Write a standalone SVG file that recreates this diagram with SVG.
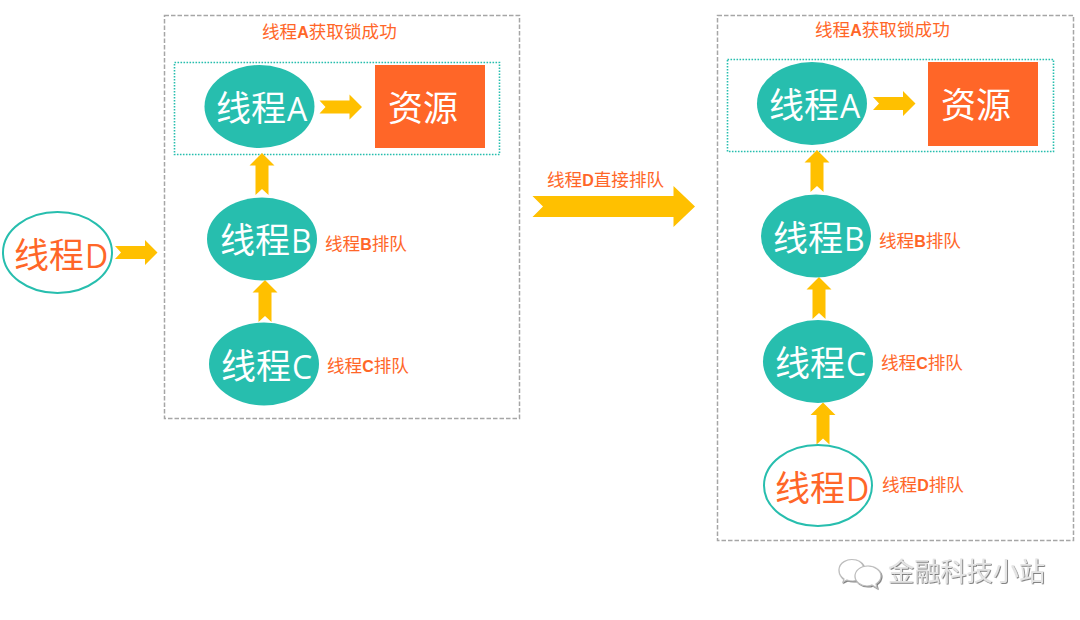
<svg xmlns="http://www.w3.org/2000/svg" width="1080" height="620" viewBox="0 0 1080 620">
<style>
text{font-family:"Noto Sans CJK SC","Noto Sans",sans-serif}
.big{font-size:35px;font-weight:400}
.big tspan{font-family:"Open Sans","Noto Sans",sans-serif;font-size:32px;font-weight:400}
.w{fill:#fff}
.o{fill:#FF6628}
.small{font-size:17.6px;fill:#FF6628;font-weight:400}
.small tspan{font-family:"Liberation Sans",sans-serif;font-weight:700;font-size:16px}
.node{fill:#27BEAE}
.open{fill:#fff;stroke:#27BEAE;stroke-width:2}
.res{fill:#FF6628}
.outer{fill:none;stroke:#A6A6A6;stroke-width:1.5;stroke-dasharray:4.5 2}
.inner{fill:none;stroke:#27BEAE;stroke-width:1.6;stroke-dasharray:1.6 1.4}
.arr{fill:#FFC000}
.mark{font-size:26.2px;fill:#e4e4e4;filter:url(#sh)}
.wc{fill:#fff;stroke:#bdbdbd;stroke-width:1.2;filter:url(#sh)}
</style>
<defs>
<filter id="sh" x="-10%" y="-10%" width="120%" height="120%"><feDropShadow dx="0.8" dy="0.8" stdDeviation="0.4" flood-color="#666"/></filter>
<path id="up" d="M0 0L12.500 12.500H6.500V42L0 36L-6.500 42V12.500H-12.500Z"/>
<path id="right" d="M0 -6.500H30V-12.500L42.500 0L30 12.500V6.500H0L6 0Z"/>
</defs>

<g id="panel-left">
<rect class="outer" x="164.500" y="15.500" width="355" height="403"/>
<rect class="inner" x="174.500" y="62.500" width="325" height="92"/>
<text class="small" x="262" y="38">线程<tspan>A</tspan>获取锁成功</text>
</g>
<g id="panel-right">
<rect class="outer" x="717.500" y="15.500" width="356" height="525"/>
<rect class="inner" x="727.500" y="59.500" width="326" height="92"/>
<text class="small" x="815" y="36">线程<tspan>A</tspan>获取锁成功</text>
</g>

<g id="connectors" class="arr">
<use href="#right" x="319.500" y="107"/>
<use href="#up" x="262" y="153"/>
<use href="#up" x="265" y="280"/>
<use href="#right" x="115" y="252.500"/>
<use href="#right" x="873" y="103.500"/>
<use href="#up" x="817" y="150"/>
<use href="#up" x="819" y="277"/>
<use href="#up" x="823" y="402.500"/>
<polygon points="532.500,196 673.500,196 673.500,186 695,206.500 673.500,227 673.500,217 532.500,217 543,206.500"/>
</g>

<g id="thread-d-left">
<ellipse class="open" cx="57.500" cy="252.500" rx="54.500" ry="40.500"/>
<text class="big o" x="14" y="268">线程<tspan dx="1">D</tspan></text>
</g>
<g id="thread-a-left">
<ellipse class="node" cx="259.500" cy="106.500" rx="55" ry="41.500"/>
<text class="big w" x="216" y="120.500">线程<tspan dx="1">A</tspan></text>
</g>
<g id="resource-left">
<rect class="res" x="375" y="65" width="110" height="83"/>
<text class="big w" x="388" y="120.500">资源</text>
</g>
<g id="thread-b-left">
<ellipse class="node" cx="262" cy="239" rx="55" ry="41.500"/>
<text class="big w" x="220" y="252.500">线程<tspan dx="1">B</tspan></text>
<text class="small" x="325" y="250">线程<tspan>B</tspan>排队</text>
</g>
<g id="thread-c-left">
<ellipse class="node" cx="264" cy="364" rx="55" ry="41.500"/>
<text class="big w" x="221" y="378.500">线程<tspan dx="1">C</tspan></text>
<text class="small" x="327" y="372">线程<tspan>C</tspan>排队</text>
</g>

<g id="transition-label">
<text class="small" x="547" y="186">线程<tspan>D</tspan>直接排队</text>
</g>

<g id="thread-a-right">
<ellipse class="node" cx="812" cy="103.500" rx="55" ry="41.500"/>
<text class="big w" x="769" y="117.500">线程<tspan dx="1">A</tspan></text>
</g>
<g id="resource-right">
<rect class="res" x="928" y="62" width="110" height="84"/>
<text class="big w" x="941" y="117.500">资源</text>
</g>
<g id="thread-b-right">
<ellipse class="node" cx="816" cy="236" rx="55" ry="41.500"/>
<text class="big w" x="773" y="250.500">线程<tspan dx="1">B</tspan></text>
<text class="small" x="879" y="247">线程<tspan>B</tspan>排队</text>
</g>
<g id="thread-c-right">
<ellipse class="node" cx="818" cy="361.500" rx="55" ry="41.500"/>
<text class="big w" x="775" y="375.500">线程<tspan dx="1">C</tspan></text>
<text class="small" x="881" y="369">线程<tspan>C</tspan>排队</text>
</g>
<g id="thread-d-right">
<ellipse class="open" cx="818" cy="485.500" rx="54" ry="40.500"/>
<text class="big o" x="775" y="501">线程<tspan dx="1">D</tspan></text>
<text class="small" x="882" y="491">线程<tspan>D</tspan>排队</text>
</g>

<g id="watermark">
<path class="wc" d="M856 560C847 558 839 563 839 570C839 574 841 577 844 579L843 582L847 580C849 581 851 581 853 581C860 581 866 574 864 568C863 564 860 561 856 560Z"/>
<path class="wc" d="M868 566C860 566 855 571 855 576C855 582 861 586 867 586C869 586 871 586 872 585L877 588L876 584C879 582 881 579 881 576C881 571 875 566 868 566Z"/>
<text class="mark" x="888" y="581">金融科技小站</text>
</g>
</svg>
